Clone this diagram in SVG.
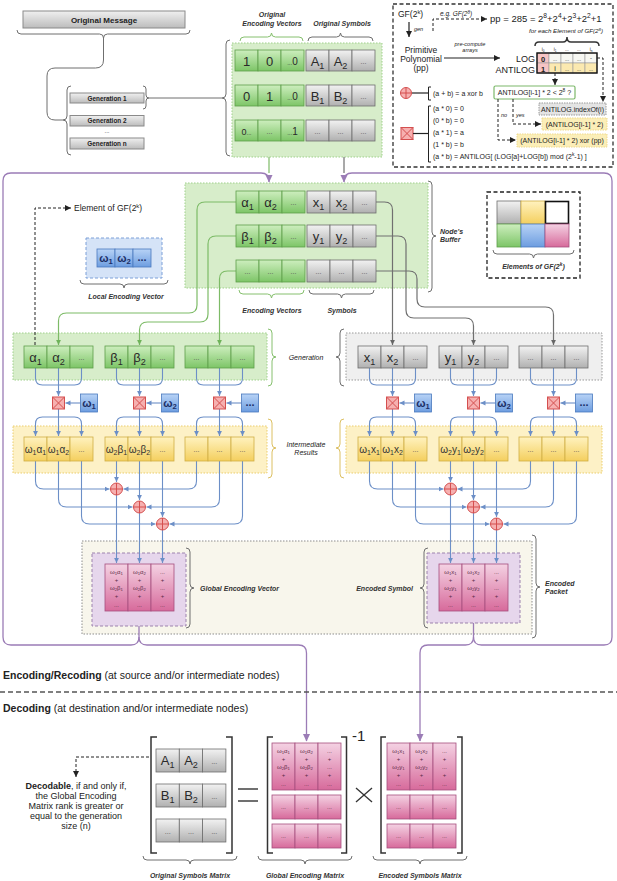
<svg xmlns="http://www.w3.org/2000/svg" width="617" height="881" viewBox="0 0 617 881">
<defs>
<linearGradient id="gG" x1="0" y1="0" x2="0" y2="1"><stop offset="0" stop-color="#cdeebe"/><stop offset="1" stop-color="#7dc567"/></linearGradient>
<linearGradient id="gK" x1="0" y1="0" x2="0" y2="1"><stop offset="0" stop-color="#f2f2f2"/><stop offset="1" stop-color="#b0b0b0"/></linearGradient>
<linearGradient id="gY" x1="0" y1="0" x2="0" y2="1"><stop offset="0" stop-color="#fff2bf"/><stop offset="1" stop-color="#f4cf5e"/></linearGradient>
<linearGradient id="gB" x1="0" y1="0" x2="0" y2="1"><stop offset="0" stop-color="#b8d3f6"/><stop offset="1" stop-color="#6d9de0"/></linearGradient>
<linearGradient id="gP" x1="0" y1="0" x2="0" y2="1"><stop offset="0" stop-color="#f4d2e3"/><stop offset="1" stop-color="#d76a9b"/></linearGradient>
<linearGradient id="gM" x1="0" y1="0" x2="0" y2="1"><stop offset="0" stop-color="#f0f0f0"/><stop offset="1" stop-color="#bcbcbc"/></linearGradient>
<marker id="aP" markerWidth="8" markerHeight="8" refX="7" refY="4" orient="auto" markerUnits="userSpaceOnUse"><path d="M0,0.5 L7.5,4 L0,7.5 z" fill="#9b7cb6"/></marker>
<marker id="aB" markerWidth="6" markerHeight="6" refX="5" refY="3" orient="auto" markerUnits="userSpaceOnUse"><path d="M0,0.6 L5,3 L0,5.4 z" fill="#6c8fc7"/></marker>
<marker id="aG" markerWidth="6" markerHeight="6" refX="5" refY="3" orient="auto" markerUnits="userSpaceOnUse"><path d="M0,0.6 L5,3 L0,5.4 z" fill="#6fb35a"/></marker>
<marker id="aR" markerWidth="6" markerHeight="6" refX="5" refY="3" orient="auto" markerUnits="userSpaceOnUse"><path d="M0,0.6 L5,3 L0,5.4 z" fill="#666"/></marker>
<marker id="aK" markerWidth="7" markerHeight="7" refX="6" refY="3.5" orient="auto" markerUnits="userSpaceOnUse"><path d="M0,0.5 L6,3.5 L0,6.5 z" fill="#222"/></marker>
</defs>
<style>
text{font-family:"Liberation Sans",Arial,Helvetica,sans-serif;fill:#222}
.G{fill:url(#gG);stroke:#5e9f4a;stroke-width:.8}
.K{fill:url(#gK);stroke:#6e6e6e;stroke-width:.8}
.Y{fill:url(#gY);stroke:#cfae45;stroke-width:.8}
.B{fill:url(#gB);stroke:#4a79be;stroke-width:.8}
.P{fill:url(#gP);stroke:#a54f7e;stroke-width:.8}
.c{font-size:13px;text-anchor:middle;fill:#2a2a2a}
.ci{font-size:10px;text-anchor:middle;fill:#333}
.d{font-size:7px;text-anchor:middle;fill:#555}
.pt{font-size:6px;text-anchor:middle;fill:#5b2a47}
.lb{font-size:7px;font-style:italic;font-weight:bold;fill:#333}
.m{text-anchor:middle}
.w{font-size:11px;font-weight:bold;text-anchor:middle;fill:#1c2f66}
.sub{font-size:70%;baseline-shift:-0.3em}
.sup{font-size:70%;baseline-shift:0.55em}
.br{fill:none;stroke:#6f6f6f;stroke-width:1}
.brg{fill:none;stroke:#86c06e;stroke-width:1}
.bry{fill:none;stroke:#dcc062;stroke-width:1}
.bl{fill:none;stroke:#6c8fc7;stroke-width:1.1}
.gl{fill:none;stroke:#7dbb67;stroke-width:1.2}
.kl{fill:none;stroke:#707070;stroke-width:1.2}
.pl{fill:none;stroke:#9b7cb6;stroke-width:1.3}
.dk{fill:none;stroke:#222;stroke-width:1;stroke-dasharray:3 2}
.ox{fill:#f6b0b0;stroke:#d44f4f;stroke-width:1}
.ol{stroke:#d44f4f;stroke-width:1;fill:none}
.bk{fill:none;stroke:#333;stroke-width:1.5}
</style>

<!-- backgrounds -->
<g id="backgrounds">
<rect x="232" y="43" width="150" height="114" fill="#d7edca" stroke="#9fd08b" stroke-dasharray="1.5 1.5"/>
<rect x="185" y="183" width="243" height="105" fill="#d7edca" stroke="#9fd08b" stroke-dasharray="1.5 1.5"/>
<rect x="13" y="333" width="254" height="47" fill="#d7edca" stroke="#9fd08b" stroke-dasharray="1.5 1.5"/>
<rect x="346" y="333" width="256" height="47" fill="#efefef" stroke="#999" stroke-dasharray="1.5 1.5"/>
<rect x="13" y="426" width="254" height="47" fill="#fdf1c6" stroke="#ebcd6e" stroke-dasharray="1.5 1.5"/>
<rect x="346" y="426" width="256" height="47" fill="#fdf1c6" stroke="#ebcd6e" stroke-dasharray="1.5 1.5"/>
<rect x="82" y="541" width="450" height="93" fill="#f8f6ec" stroke="#8d8d8d" stroke-dasharray="1.5 1.5"/>
<rect x="92" y="553" width="94" height="73" fill="#e6d6ec" stroke="#9c82ad" stroke-dasharray="3 2"/>
<rect x="427" y="553" width="93" height="70" fill="#e6d6ec" stroke="#9c82ad" stroke-dasharray="3 2"/>
</g>

<!-- connectors -->
<g id="connectors">
<path class="br" d="M103.5,38 V60 Q103.5,68 95.5,68 H55 Q47,68 47,76 V112 Q47,120 55,120 H63"/>
<path class="br" d="M149,98 H222"/>
<path class="gl" d="M269,157 V173"/>
<path class="kl" d="M344,157 V173"/>
<path class="pl" d="M139,626 V637 Q139,645 131,645 H11 Q3,645 3,637 V181 Q3,173 11,173 H261 Q269,173 269,181 V182" marker-end="url(#aP)"/>
<path class="pl" d="M139,637 Q139,645 147,645 H298.5 Q306.5,645 306.5,653 V741" marker-end="url(#aP)"/>
<path class="pl" d="M473.5,623 V637 Q473.5,645 481.5,645 H604 Q612,645 612,637 V181 Q612,173 604,173 H352 Q344,173 344,181 V182" marker-end="url(#aP)"/>
<path class="pl" d="M473.5,637 Q473.5,645 465.5,645 H428 Q420,645 420,653 V741" marker-end="url(#aP)"/>
<path class="gl" d="M236,202 H205 Q197,202 197,210 V305 Q197,313 189,313 H66.5 Q58.5,313 58.5,321 V345" marker-end="url(#aG)"/>
<path class="gl" d="M236,236 H216 Q208,236 208,244 V314 Q208,322 200,322 H147.5 Q139.5,322 139.5,330 V345" marker-end="url(#aG)"/>
<path class="gl" d="M236,271 H227.5 Q219.5,271 219.5,279 V345" marker-end="url(#aG)"/>
<path class="kl" d="M376,202 H384.5 Q392.5,202 392.5,210 V345" marker-end="url(#aR)"/>
<path class="kl" d="M376,236 H398 Q406,236 406,244 V310 Q406,318 414,318 H465.5 Q473.5,318 473.5,326 V345" marker-end="url(#aR)"/>
<path class="kl" d="M376,271 H409 Q417,271 417,279 V299 Q417,307 425,307 H545.5 Q553.5,307 553.5,315 V345" marker-end="url(#aR)"/>
<path class="dk" d="M35,345 V208 H71" marker-end="url(#aK)"/>
<g id="mul-units">
<g transform="translate(35.5,0)">
<path class="bl" d="M0,368 V378 Q0,385 7,385 H39 Q46,385 46,378 V368"/>
<path class="bl" d="M23,368 V396" marker-end="url(#aB)"/>
<path class="bl" d="M45,403 H30" marker-end="url(#aB)"/>
<path class="bl" d="M23,409 V436" marker-end="url(#aB)"/>
<path class="bl" d="M23,417 H7 Q0,417 0,424 V436" marker-end="url(#aB)"/>
<path class="bl" d="M23,417 H39 Q46,417 46,424 V436" marker-end="url(#aB)"/>
</g>
<g transform="translate(116.5,0)">
<path class="bl" d="M0,368 V378 Q0,385 7,385 H39 Q46,385 46,378 V368"/>
<path class="bl" d="M23,368 V396" marker-end="url(#aB)"/>
<path class="bl" d="M45,403 H30" marker-end="url(#aB)"/>
<path class="bl" d="M23,409 V436" marker-end="url(#aB)"/>
<path class="bl" d="M23,417 H7 Q0,417 0,424 V436" marker-end="url(#aB)"/>
<path class="bl" d="M23,417 H39 Q46,417 46,424 V436" marker-end="url(#aB)"/>
</g>
<g transform="translate(196.5,0)">
<path class="bl" d="M0,368 V378 Q0,385 7,385 H39 Q46,385 46,378 V368"/>
<path class="bl" d="M23,368 V396" marker-end="url(#aB)"/>
<path class="bl" d="M45,403 H30" marker-end="url(#aB)"/>
<path class="bl" d="M23,409 V436" marker-end="url(#aB)"/>
<path class="bl" d="M23,417 H7 Q0,417 0,424 V436" marker-end="url(#aB)"/>
<path class="bl" d="M23,417 H39 Q46,417 46,424 V436" marker-end="url(#aB)"/>
</g>
<g transform="translate(369.5,0)">
<path class="bl" d="M0,368 V378 Q0,385 7,385 H39 Q46,385 46,378 V368"/>
<path class="bl" d="M23,368 V396" marker-end="url(#aB)"/>
<path class="bl" d="M45,403 H30" marker-end="url(#aB)"/>
<path class="bl" d="M23,409 V436" marker-end="url(#aB)"/>
<path class="bl" d="M23,417 H7 Q0,417 0,424 V436" marker-end="url(#aB)"/>
<path class="bl" d="M23,417 H39 Q46,417 46,424 V436" marker-end="url(#aB)"/>
</g>
<g transform="translate(450.5,0)">
<path class="bl" d="M0,368 V378 Q0,385 7,385 H39 Q46,385 46,378 V368"/>
<path class="bl" d="M23,368 V396" marker-end="url(#aB)"/>
<path class="bl" d="M45,403 H30" marker-end="url(#aB)"/>
<path class="bl" d="M23,409 V436" marker-end="url(#aB)"/>
<path class="bl" d="M23,417 H7 Q0,417 0,424 V436" marker-end="url(#aB)"/>
<path class="bl" d="M23,417 H39 Q46,417 46,424 V436" marker-end="url(#aB)"/>
</g>
<g transform="translate(530.5,0)">
<path class="bl" d="M0,368 V378 Q0,385 7,385 H39 Q46,385 46,378 V368"/>
<path class="bl" d="M23,368 V396" marker-end="url(#aB)"/>
<path class="bl" d="M45,403 H30" marker-end="url(#aB)"/>
<path class="bl" d="M23,409 V436" marker-end="url(#aB)"/>
<path class="bl" d="M23,417 H7 Q0,417 0,424 V436" marker-end="url(#aB)"/>
<path class="bl" d="M23,417 H39 Q46,417 46,424 V436" marker-end="url(#aB)"/>
</g>
</g>
<g id="adder-left">
<path class="bl" d="M35.5,461 V481 Q35.5,489 43.5,489 H109.5" marker-end="url(#aB)"/>
<path class="bl" d="M196.5,461 V481 Q196.5,489 188.5,489 H123.5" marker-end="url(#aB)"/>
<path class="bl" d="M116.5,461 V482" marker-end="url(#aB)"/>
<path class="bl" d="M58.5,461 V499 Q58.5,507 66.5,507 H132.5" marker-end="url(#aB)"/>
<path class="bl" d="M219.5,461 V499 Q219.5,507 211.5,507 H146.5" marker-end="url(#aB)"/>
<path class="bl" d="M139.5,461 V500" marker-end="url(#aB)"/>
<path class="bl" d="M81.5,461 V516 Q81.5,524 89.5,524 H155.5" marker-end="url(#aB)"/>
<path class="bl" d="M242.5,461 V516 Q242.5,524 234.5,524 H169.5" marker-end="url(#aB)"/>
<path class="bl" d="M162.5,461 V517" marker-end="url(#aB)"/>
<path class="bl" d="M116.5,495 V563" marker-end="url(#aB)"/>
<path class="bl" d="M139.5,513 V563" marker-end="url(#aB)"/>
<path class="bl" d="M162.5,530 V563" marker-end="url(#aB)"/>
</g>
<g id="adder-right">
<path class="bl" d="M369.5,461 V481 Q369.5,489 377.5,489 H443.5" marker-end="url(#aB)"/>
<path class="bl" d="M530.5,461 V481 Q530.5,489 522.5,489 H457.5" marker-end="url(#aB)"/>
<path class="bl" d="M450.5,461 V482" marker-end="url(#aB)"/>
<path class="bl" d="M392.5,461 V499 Q392.5,507 400.5,507 H466.5" marker-end="url(#aB)"/>
<path class="bl" d="M553.5,461 V499 Q553.5,507 545.5,507 H480.5" marker-end="url(#aB)"/>
<path class="bl" d="M473.5,461 V500" marker-end="url(#aB)"/>
<path class="bl" d="M415.5,461 V516 Q415.5,524 423.5,524 H489.5" marker-end="url(#aB)"/>
<path class="bl" d="M576.5,461 V516 Q576.5,524 568.5,524 H503.5" marker-end="url(#aB)"/>
<path class="bl" d="M496.5,461 V517" marker-end="url(#aB)"/>
<path class="bl" d="M450.5,495 V563" marker-end="url(#aB)"/>
<path class="bl" d="M473.5,513 V563" marker-end="url(#aB)"/>
<path class="bl" d="M496.5,530 V563" marker-end="url(#aB)"/>
</g>
<path class="dk" d="M149,757 H76 V777" marker-end="url(#aK)"/>
</g>

<g id="original-message">
<rect x="23" y="11" width="162" height="17" fill="url(#gM)" stroke="#8a8a8a"/>
<text x="104" y="22.5" class="m" font-size="8" font-weight="bold" fill="#333">Original Message</text>
<path class="br" d="M17,30 Q17,34 21,34 H99.5 Q103.5,34 103.5,38 Q103.5,34 107.5,34 H186 Q190,34 190,30"/>
</g>
<g id="generations">
<path class="br" d="M71,86 Q67,86 67,90 V116 Q67,120 63,120 Q67,120 67,124 V151 Q67,155 71,155"/>
<rect x="70" y="93" width="74" height="10" fill="url(#gM)" stroke="#8a8a8a"/>
<text x="107" y="100.5" class="m" font-size="6.4" font-weight="bold" fill="#333">Generation 1</text>
<path class="br" d="M143,86 Q146,86 146,89 V95 Q146,98 149,98 Q146,98 146,101 V106 Q146,109 143,109"/>
<rect x="70" y="115.5" width="74" height="10.5" fill="url(#gM)" stroke="#8a8a8a"/>
<text x="107" y="123.3" class="m" font-size="6.4" font-weight="bold" fill="#333">Generation 2</text>
<text x="107" y="133" class="m" font-size="6" fill="#555">...</text>
<rect x="70" y="138" width="74" height="11" fill="url(#gM)" stroke="#8a8a8a"/>
<text x="107" y="146" class="m" font-size="6.4" font-weight="bold" fill="#333">Generation n</text>
</g>

<g id="original-matrix">
<path class="br" d="M230,40 Q226,40 226,44 V94 Q226,98 222,98 Q226,98 226,102 V152 Q226,156 230,156"/>
<path class="brg" d="M240,41 Q240,37 244,37 H267.5 Q271.5,37 271.5,33 Q271.5,37 275.5,37 H299 Q303,37 303,41"/>
<path class="br" d="M308,41 Q308,37 312,37 H336.5 Q340.5,37 340.5,33 Q340.5,37 344.5,37 H369 Q373,37 373,41"/>
<text x="272" y="17" class="lb m">Original</text>
<text x="272" y="26" class="lb m">Encoding Vectors</text>
<text x="342" y="26" class="lb m">Original Symbols</text>
<rect class="G" x="235" y="50" width="23" height="21"/><rect class="G" x="258" y="50" width="23" height="21"/><rect class="G" x="281" y="50" width="23" height="21"/>
<rect class="K" x="306" y="50" width="23" height="21"/><rect class="K" x="329" y="50" width="23" height="21"/><rect class="K" x="352" y="50" width="23" height="21"/>
<rect class="G" x="235" y="85" width="23" height="21"/><rect class="G" x="258" y="85" width="23" height="21"/><rect class="G" x="281" y="85" width="23" height="21"/>
<rect class="K" x="306" y="85" width="23" height="21"/><rect class="K" x="329" y="85" width="23" height="21"/><rect class="K" x="352" y="85" width="23" height="21"/>
<rect class="G" x="235" y="120" width="23" height="21"/><rect class="G" x="258" y="120" width="23" height="21"/><rect class="G" x="281" y="120" width="23" height="21"/>
<rect class="K" x="306" y="120" width="23" height="21"/><rect class="K" x="329" y="120" width="23" height="21"/><rect class="K" x="352" y="120" width="23" height="21"/>
<text class="c" x="246.5" y="65.5">1</text><text class="c" x="269.5" y="65.5">0</text><text class="c" x="292.5" y="65"><tspan font-size="6">...</tspan><tspan font-size="10">0</tspan></text>
<text class="c" x="317.5" y="65.5">A<tspan class="sub">1</tspan></text><text class="c" x="340.5" y="65.5">A<tspan class="sub">2</tspan></text><text class="d" x="363.5" y="64">...</text>
<text class="c" x="246.5" y="100.5">0</text><text class="c" x="269.5" y="100.5">1</text><text class="c" x="292.5" y="100"><tspan font-size="6">...</tspan><tspan font-size="10">0</tspan></text>
<text class="c" x="317.5" y="100.5">B<tspan class="sub">1</tspan></text><text class="c" x="340.5" y="100.5">B<tspan class="sub">2</tspan></text><text class="d" x="363.5" y="99">...</text>
<text class="c" x="246.5" y="135"><tspan font-size="9">0</tspan><tspan font-size="6">...</tspan></text><text class="d" x="269.5" y="134">...</text><text class="c" x="292.5" y="135"><tspan font-size="6">...</tspan><tspan font-size="10">1</tspan></text>
<text class="d" x="317.5" y="134">...</text><text class="d" x="340.5" y="134">...</text><text class="d" x="363.5" y="134">...</text>
</g>

<g id="gf-panel">
<rect x="393" y="4" width="220" height="163" fill="#fff" stroke="#333" stroke-width="1.3" stroke-dasharray="4 2.5"/>
<text x="398" y="17" font-size="8.5">GF(2<tspan class="sup">k</tspan>)</text>
<line x1="409" y1="22" x2="409" y2="37" stroke="#222" stroke-width="1.2" marker-end="url(#aK)"/>
<text x="414" y="31" font-size="5.5" font-style="italic">gen</text>
<path class="dk" d="M433,31 V19 H487" marker-end="url(#aK)"/>
<text x="440" y="15.5" font-size="6.5" font-style="italic">e.g. GF(2<tspan class="sup">8</tspan>)</text>
<text x="490" y="22" font-size="9.5">pp = 285 = 2<tspan class="sup">8</tspan>+2<tspan class="sup">4</tspan>+2<tspan class="sup">3</tspan>+2<tspan class="sup">2</tspan>+1</text>
<text x="566" y="33" class="m" font-size="6.2" font-style="italic">for each Element of GF(2<tspan class="sup">8</tspan>)</text>
<path class="bk" stroke-width="1" d="M535,46 Q535,42 539,42 H563 Q567,42 567,37 Q567,42 571,42 H595 Q599,42 599,46"/>
<text x="421" y="53" class="m" font-size="8.5">Primitive</text>
<text x="421" y="62" class="m" font-size="8.5">Polynomial</text>
<text x="421" y="71" class="m" font-size="8.5">(pp)</text>
<line x1="444" y1="58" x2="500" y2="58" stroke="#222" stroke-width="1.2" marker-end="url(#aK)"/>
<text x="470" y="46" class="m" font-size="5.5" font-style="italic">pre-compute</text>
<text x="470" y="52" class="m" font-size="5.5" font-style="italic">arrays</text>
<text x="535" y="62" font-size="9" text-anchor="end">LOG</text>
<text x="535" y="72.5" font-size="9" text-anchor="end">ANTILOG</text>
<g font-size="4.5" text-anchor="middle" fill="#444">
<text x="543" y="51">i<tspan class="sub">0</tspan></text><text x="555" y="51">i<tspan class="sub">1</tspan></text><text x="567" y="51">...</text><text x="579" y="51">...</text><text x="591" y="51">i<tspan class="sub">n</tspan></text>
</g>
<g stroke="#999" stroke-width=".6">
<rect x="537" y="53" width="12" height="10" fill="#f6c4c4"/><rect x="549" y="53" width="12" height="10" fill="#f7f7f2"/><rect x="561" y="53" width="12" height="10" fill="#f7f7f2"/><rect x="573" y="53" width="12" height="10" fill="#f7f7f2"/><rect x="585" y="53" width="12" height="10" fill="#f7f7f2"/>
<rect x="537" y="63" width="12" height="10" fill="#f6c4c4"/><rect x="549" y="63" width="12" height="10" fill="#fbe9b0"/><rect x="561" y="63" width="12" height="10" fill="#fbe9b0"/><rect x="573" y="63" width="12" height="10" fill="#fbe9b0"/><rect x="585" y="63" width="12" height="10" fill="#fbe9b0"/>
</g>
<rect x="537" y="53" width="60" height="20" fill="none" stroke="#111" stroke-width="1.4"/>
<text x="543" y="61.5" class="m" font-size="7.5" font-weight="bold" fill="#d03030">0</text>
<text x="543" y="71.5" class="m" font-size="7.5" font-weight="bold" fill="#d03030">1</text>
<text x="555" y="60.5" class="m" font-size="5">...</text><text x="567" y="60.5" class="m" font-size="5">...</text><text x="579" y="60.5" class="m" font-size="5">...</text><text x="591" y="60" class="m" font-size="6">-</text>
<text x="555" y="71" class="m" font-size="7">i</text><text x="567" y="70.5" class="m" font-size="5">...</text><text x="579" y="70.5" class="m" font-size="5">...</text><text x="591" y="70.5" class="m" font-size="5">...</text>
<path class="dk" d="M555,73 V85" marker-end="url(#aK)"/>
<path class="dk" d="M597,58 H603 V102" marker-end="url(#aK)"/>
<rect x="494" y="86" width="81" height="13" rx="1.5" fill="#fff" stroke="#7cb86a" stroke-width="1.2"/>
<text x="534.5" y="95.3" class="m" font-size="7">ANTILOG[i-1] * 2 &lt; 2<tspan class="sup">8</tspan> ?</text>
<rect x="539" y="103" width="67" height="12" fill="#e4e4e4" stroke="#999" stroke-dasharray="1.5 1"/>
<text x="572.5" y="111.5" class="m" font-size="7">ANTILOG.indexOf(i)</text>
<path class="dk" d="M498,99 V140 H516" marker-end="url(#aK)"/>
<path class="dk" d="M513,99 V124 H541" marker-end="url(#aK)"/>
<text x="501" y="117" font-size="5.5" font-style="italic">no</text>
<text x="516" y="117" font-size="5.5" font-style="italic">yes</text>
<rect x="542" y="118" width="65" height="12" fill="#fbeeb8" stroke="#efd98c" stroke-dasharray="1.5 1"/>
<text x="574.5" y="126.8" class="m" font-size="7">(ANTILOG[i-1] * 2)</text>
<rect x="517" y="134" width="90" height="13" fill="#fbeeb8" stroke="#efd98c" stroke-dasharray="1.5 1"/>
<text x="562" y="143.3" class="m" font-size="7">(ANTILOG[i-1] * 2) xor (pp)</text>
<circle cx="406" cy="93" r="5.5" class="ox"/><path class="ol" d="M400.5,93 H411.5 M406,87.5 V98.5"/>
<line x1="412" y1="93" x2="428" y2="93" stroke="#222" stroke-width="1.2"/>
<path fill="none" stroke="#222" stroke-width="1" d="M431,87 H428.5 V100 H431"/>
<text x="433" y="96" font-size="7">(a + b) = a xor b</text>
<rect x="401" y="127.5" width="12" height="12" class="ox"/><path class="ol" d="M401,127.5 L413,139.5 M413,127.5 L401,139.5"/>
<line x1="413" y1="133.5" x2="428" y2="133.5" stroke="#222" stroke-width="1.2"/>
<path fill="none" stroke="#222" stroke-width="1" d="M431,106 H428.5 V162 H431"/>
<text x="433" y="111" font-size="7">(a * 0) = 0</text>
<text x="433" y="123" font-size="7">(0 * b) = 0</text>
<text x="433" y="135" font-size="7">(a * 1) = a</text>
<text x="433" y="147" font-size="7">(1 * b) = b</text>
<text x="433" y="159" font-size="7">(a * b) = ANTILOG[ (LOG[a]+LOG[b]) mod (2<tspan class="sup">k</tspan>-1) ]</text>
</g>

<g id="node-buffer">
<rect class="G" x="236" y="191" width="23" height="22"/><rect class="G" x="259" y="191" width="23" height="22"/><rect class="G" x="282" y="191" width="23" height="22"/>
<rect class="K" x="307" y="191" width="23" height="22"/><rect class="K" x="330" y="191" width="23" height="22"/><rect class="K" x="353" y="191" width="23" height="22"/>
<rect class="G" x="236" y="225" width="23" height="22"/><rect class="G" x="259" y="225" width="23" height="22"/><rect class="G" x="282" y="225" width="23" height="22"/>
<rect class="K" x="307" y="225" width="23" height="22"/><rect class="K" x="330" y="225" width="23" height="22"/><rect class="K" x="353" y="225" width="23" height="22"/>
<rect class="G" x="236" y="260" width="23" height="22"/><rect class="G" x="259" y="260" width="23" height="22"/><rect class="G" x="282" y="260" width="23" height="22"/>
<rect class="K" x="307" y="260" width="23" height="22"/><rect class="K" x="330" y="260" width="23" height="22"/><rect class="K" x="353" y="260" width="23" height="22"/>
<text class="c" x="247.5" y="206.5">α<tspan class="sub">1</tspan></text><text class="c" x="270.5" y="206.5">α<tspan class="sub">2</tspan></text><text class="d" x="293.5" y="205">...</text>
<text class="c" x="318.5" y="206.5">x<tspan class="sub">1</tspan></text><text class="c" x="341.5" y="206.5">x<tspan class="sub">2</tspan></text><text class="d" x="364.5" y="205">...</text>
<text class="c" x="247.5" y="240.5">β<tspan class="sub">1</tspan></text><text class="c" x="270.5" y="240.5">β<tspan class="sub">2</tspan></text><text class="d" x="293.5" y="239">...</text>
<text class="c" x="318.5" y="240.5">y<tspan class="sub">1</tspan></text><text class="c" x="341.5" y="240.5">y<tspan class="sub">2</tspan></text><text class="d" x="364.5" y="239">...</text>
<text class="d" x="247.5" y="274">...</text><text class="d" x="270.5" y="274">...</text><text class="d" x="293.5" y="274">...</text>
<text class="d" x="318.5" y="274">...</text><text class="d" x="341.5" y="274">...</text><text class="d" x="364.5" y="274">...</text>
<path class="brg" d="M239,290 Q239,294 243,294 H267.5 Q271.5,294 271.5,298 Q271.5,294 275.5,294 H300 Q304,294 304,290"/>
<path class="br" d="M309,290 Q309,294 313,294 H337.5 Q341.5,294 341.5,298 Q341.5,294 345.5,294 H370 Q374,294 374,290"/>
<text x="272" y="313" class="lb m">Encoding Vectors</text>
<text x="342" y="313" class="lb m">Symbols</text>
<path class="br" stroke="#333" d="M428,181 Q432,181 432,185 V232 Q432,236 436,236 Q432,236 432,240 V288 Q432,292 428,292"/>
<text x="440" y="234" class="lb">Node's</text>
<text x="440" y="242" class="lb">Buffer</text>
</g>

<g id="gf-elements">
<rect x="487" y="192" width="93" height="86" fill="#fff" stroke="#222" stroke-width="1.3" stroke-dasharray="4 2.5"/>
<rect class="K" x="497" y="201" width="24" height="23"/><rect class="Y" x="521" y="201" width="24" height="23"/><rect x="545.5" y="201.5" width="23" height="22" fill="#fff" stroke="#111" stroke-width="1.6"/>
<rect class="G" x="497" y="224" width="24" height="23"/><rect class="B" x="521" y="224" width="24" height="23"/><rect class="P" x="545" y="224" width="24" height="23"/>
<path class="br" d="M493,250 Q493,254 497,254 H529.5 Q533.5,254 533.5,258 Q533.5,254 537.5,254 H570 Q574,254 574,250"/>
<text x="533.5" y="269" class="lb m">Elements of GF(2<tspan class="sup">k</tspan>)</text>
</g>

<g id="element-label">
<text x="74" y="211" font-size="8.5" fill="#333">Element of GF(2<tspan class="sup">k</tspan>)</text>
</g>
<g id="local-encoding-vector">
<rect x="86" y="238" width="76" height="40" fill="#d5e3f7" stroke="#7ca0d8" stroke-dasharray="3 2"/>
<rect class="B" x="97" y="249" width="18" height="18"/><rect class="B" x="115" y="249" width="18" height="18"/><rect class="B" x="133" y="249" width="18" height="18"/>
<text class="w" x="106" y="262">ω<tspan class="sub">1</tspan></text><text class="w" x="124" y="262">ω<tspan class="sub">2</tspan></text><text class="w" x="142" y="261" font-size="8">...</text>
<path class="br" d="M80,280 Q80,284 84,284 H120 Q124,284 124,288 Q124,284 128,284 H164 Q168,284 168,280"/>
<text x="126" y="299" class="lb m">Local Encoding Vector</text>
</g>

<g id="generation-left">
<rect class="G" x="24" y="346" width="23" height="22"/><rect class="G" x="47" y="346" width="23" height="22"/><rect class="G" x="70" y="346" width="23" height="22"/>
<rect class="G" x="105" y="346" width="23" height="22"/><rect class="G" x="128" y="346" width="23" height="22"/><rect class="G" x="151" y="346" width="23" height="22"/>
<rect class="G" x="185" y="346" width="23" height="22"/><rect class="G" x="208" y="346" width="23" height="22"/><rect class="G" x="231" y="346" width="23" height="22"/>
<text class="c" x="35.5" y="362">α<tspan class="sub">1</tspan></text><text class="c" x="58.5" y="362">α<tspan class="sub">2</tspan></text><text class="d" x="81.5" y="360">...</text>
<text class="c" x="116.5" y="362">β<tspan class="sub">1</tspan></text><text class="c" x="139.5" y="362">β<tspan class="sub">2</tspan></text><text class="d" x="162.5" y="360">...</text>
<text class="d" x="196.5" y="360">...</text><text class="d" x="219.5" y="360">...</text><text class="d" x="242.5" y="360">...</text>
</g>
<g id="generation-right">
<rect class="K" x="358" y="346" width="23" height="22"/><rect class="K" x="381" y="346" width="23" height="22"/><rect class="K" x="404" y="346" width="23" height="22"/>
<rect class="K" x="439" y="346" width="23" height="22"/><rect class="K" x="462" y="346" width="23" height="22"/><rect class="K" x="485" y="346" width="23" height="22"/>
<rect class="K" x="519" y="346" width="23" height="22"/><rect class="K" x="542" y="346" width="23" height="22"/><rect class="K" x="565" y="346" width="23" height="22"/>
<text class="c" x="369.5" y="362">x<tspan class="sub">1</tspan></text><text class="c" x="392.5" y="362">x<tspan class="sub">2</tspan></text><text class="d" x="415.5" y="360">...</text>
<text class="c" x="450.5" y="362">y<tspan class="sub">1</tspan></text><text class="c" x="473.5" y="362">y<tspan class="sub">2</tspan></text><text class="d" x="496.5" y="360">...</text>
<text class="d" x="530.5" y="360">...</text><text class="d" x="553.5" y="360">...</text><text class="d" x="576.5" y="360">...</text>
</g>
<g id="generation-label">
<path class="brg" d="M268,329 Q272,329 272,333 V353 Q272,357 276,357 Q272,357 272,361 V382 Q272,386 268,386"/>
<path class="br" d="M344,329 Q340,329 340,333 V353 Q340,357 336,357 Q340,357 340,361 V382 Q340,386 344,386"/>
<text x="306" y="360" class="m" font-size="7" font-style="italic">Generation</text>
</g>

<g id="multipliers">
<rect x="52.5" y="397" width="12" height="12" class="ox"/><path class="ol" d="M52.5,397 l12,12 m0,-12 l-12,12"/>
<rect x="133.5" y="397" width="12" height="12" class="ox"/><path class="ol" d="M133.5,397 l12,12 m0,-12 l-12,12"/>
<rect x="213.5" y="397" width="12" height="12" class="ox"/><path class="ol" d="M213.5,397 l12,12 m0,-12 l-12,12"/>
<rect x="386.5" y="397" width="12" height="12" class="ox"/><path class="ol" d="M386.5,397 l12,12 m0,-12 l-12,12"/>
<rect x="467.5" y="397" width="12" height="12" class="ox"/><path class="ol" d="M467.5,397 l12,12 m0,-12 l-12,12"/>
<rect x="547.5" y="397" width="12" height="12" class="ox"/><path class="ol" d="M547.5,397 l12,12 m0,-12 l-12,12"/>
</g>
<g id="coefficients">
<rect class="B" x="80.5" y="394" width="17" height="18"/><text class="w" x="89" y="407">ω<tspan class="sub">1</tspan></text>
<rect class="B" x="161.5" y="394" width="17" height="18"/><text class="w" x="170" y="407">ω<tspan class="sub">2</tspan></text>
<rect class="B" x="241.5" y="394" width="17" height="18"/><text class="w" x="250" y="406" font-size="8">...</text>
<rect class="B" x="414.5" y="394" width="17" height="18"/><text class="w" x="423" y="407">ω<tspan class="sub">1</tspan></text>
<rect class="B" x="495.5" y="394" width="17" height="18"/><text class="w" x="504" y="407">ω<tspan class="sub">2</tspan></text>
<rect class="B" x="575.5" y="394" width="17" height="18"/><text class="w" x="584" y="406" font-size="8">...</text>
</g>

<g id="intermediate-left">
<rect class="Y" x="24" y="437" width="23" height="24"/><rect class="Y" x="47" y="437" width="23" height="24"/><rect class="Y" x="70" y="437" width="23" height="24"/>
<rect class="Y" x="105" y="437" width="23" height="24"/><rect class="Y" x="128" y="437" width="23" height="24"/><rect class="Y" x="151" y="437" width="23" height="24"/>
<rect class="Y" x="185" y="437" width="23" height="24"/><rect class="Y" x="208" y="437" width="23" height="24"/><rect class="Y" x="231" y="437" width="23" height="24"/>
<text class="ci" x="35.5" y="452.5">ω<tspan class="sub">1</tspan>α<tspan class="sub">1</tspan></text><text class="ci" x="58.5" y="452.5">ω<tspan class="sub">1</tspan>α<tspan class="sub">2</tspan></text><text class="d" x="81.5" y="452">...</text>
<text class="ci" x="116.5" y="452.5">ω<tspan class="sub">2</tspan>β<tspan class="sub">1</tspan></text><text class="ci" x="139.5" y="452.5">ω<tspan class="sub">2</tspan>β<tspan class="sub">2</tspan></text><text class="d" x="162.5" y="452">...</text>
<text class="d" x="196.5" y="452">...</text><text class="d" x="219.5" y="452">...</text><text class="d" x="242.5" y="452">...</text>
</g>
<g id="intermediate-right">
<rect class="Y" x="358" y="437" width="23" height="24"/><rect class="Y" x="381" y="437" width="23" height="24"/><rect class="Y" x="404" y="437" width="23" height="24"/>
<rect class="Y" x="439" y="437" width="23" height="24"/><rect class="Y" x="462" y="437" width="23" height="24"/><rect class="Y" x="485" y="437" width="23" height="24"/>
<rect class="Y" x="519" y="437" width="23" height="24"/><rect class="Y" x="542" y="437" width="23" height="24"/><rect class="Y" x="565" y="437" width="23" height="24"/>
<text class="ci" x="369.5" y="452.5">ω<tspan class="sub">1</tspan>x<tspan class="sub">1</tspan></text><text class="ci" x="392.5" y="452.5">ω<tspan class="sub">1</tspan>x<tspan class="sub">2</tspan></text><text class="d" x="415.5" y="452">...</text>
<text class="ci" x="450.5" y="452.5">ω<tspan class="sub">2</tspan>y<tspan class="sub">1</tspan></text><text class="ci" x="473.5" y="452.5">ω<tspan class="sub">2</tspan>y<tspan class="sub">2</tspan></text><text class="d" x="496.5" y="452">...</text>
<text class="d" x="530.5" y="452">...</text><text class="d" x="553.5" y="452">...</text><text class="d" x="576.5" y="452">...</text>
</g>
<g id="intermediate-label">
<path class="bry" d="M268,419 Q272,419 272,423 V444 Q272,448 276,448 Q272,448 272,452 V474 Q272,478 268,478"/>
<path class="bry" d="M344,419 Q340,419 340,423 V444 Q340,448 336,448 Q340,448 340,452 V474 Q340,478 344,478"/>
<text x="306" y="447" class="m" font-size="7" font-style="italic">Intermediate</text>
<text x="306" y="455" class="m" font-size="7" font-style="italic">Results</text>
</g>

<g id="adders">
<circle cx="116.5" cy="489" r="6" class="ox"/><path class="ol" d="M110.5,489 h12 M116.5,483 v12"/>
<circle cx="139.5" cy="507" r="6" class="ox"/><path class="ol" d="M133.5,507 h12 M139.5,501 v12"/>
<circle cx="162.5" cy="524" r="6" class="ox"/><path class="ol" d="M156.5,524 h12 M162.5,518 v12"/>
<circle cx="450.5" cy="489" r="6" class="ox"/><path class="ol" d="M444.5,489 h12 M450.5,483 v12"/>
<circle cx="473.5" cy="507" r="6" class="ox"/><path class="ol" d="M467.5,507 h12 M473.5,501 v12"/>
<circle cx="496.5" cy="524" r="6" class="ox"/><path class="ol" d="M490.5,524 h12 M496.5,518 v12"/>
</g>

<g id="global-encoding-vector">
<rect class="P" x="105" y="564" width="23" height="47"/><rect class="P" x="128" y="564" width="23" height="47"/><rect class="P" x="151" y="564" width="23" height="47"/>
<text class="pt" x="116.5" y="574">ω<tspan class="sub">1</tspan>α<tspan class="sub">1</tspan></text><text class="pt" x="116.5" y="582">+</text><text class="pt" x="116.5" y="590">ω<tspan class="sub">2</tspan>β<tspan class="sub">1</tspan></text><text class="pt" x="116.5" y="598">+</text><text class="pt" x="116.5" y="607">...</text>
<text class="pt" x="139.5" y="574">ω<tspan class="sub">1</tspan>α<tspan class="sub">2</tspan></text><text class="pt" x="139.5" y="582">+</text><text class="pt" x="139.5" y="590">ω<tspan class="sub">2</tspan>β<tspan class="sub">2</tspan></text><text class="pt" x="139.5" y="598">+</text><text class="pt" x="139.5" y="607">...</text>
<text class="pt" x="162.5" y="574">...</text><text class="pt" x="162.5" y="582">+</text><text class="pt" x="162.5" y="590">...</text><text class="pt" x="162.5" y="598">+</text><text class="pt" x="162.5" y="607">...</text>
<path class="br" stroke="#8a7a9a" d="M186,548 Q190,548 190,552 V584 Q190,588 194,588 Q190,588 190,592 V624 Q190,628 186,628"/>
<text x="200" y="590.5" class="lb">Global Encoding Vector</text>
</g>
<g id="encoded-symbol">
<rect class="P" x="439" y="564" width="23" height="47"/><rect class="P" x="462" y="564" width="23" height="47"/><rect class="P" x="485" y="564" width="23" height="47"/>
<text class="pt" x="450.5" y="574">ω<tspan class="sub">1</tspan>x<tspan class="sub">1</tspan></text><text class="pt" x="450.5" y="582">+</text><text class="pt" x="450.5" y="590">ω<tspan class="sub">2</tspan>y<tspan class="sub">1</tspan></text><text class="pt" x="450.5" y="598">+</text><text class="pt" x="450.5" y="607">...</text>
<text class="pt" x="473.5" y="574">ω<tspan class="sub">1</tspan>x<tspan class="sub">2</tspan></text><text class="pt" x="473.5" y="582">+</text><text class="pt" x="473.5" y="590">ω<tspan class="sub">2</tspan>y<tspan class="sub">2</tspan></text><text class="pt" x="473.5" y="598">+</text><text class="pt" x="473.5" y="607">...</text>
<text class="pt" x="496.5" y="574">...</text><text class="pt" x="496.5" y="582">+</text><text class="pt" x="496.5" y="590">...</text><text class="pt" x="496.5" y="598">+</text><text class="pt" x="496.5" y="607">...</text>
<path class="br" stroke="#8a7a9a" d="M428,548 Q424,548 424,552 V584 Q424,588 420,588 Q424,588 424,592 V624 Q424,628 428,628"/>
<text x="413" y="590.5" class="lb" text-anchor="end">Encoded Symbol</text>
</g>
<g id="encoded-packet-label">
<path class="br" d="M532,535 Q536,535 536,539 V583 Q536,587 540,587 Q536,587 536,591 V634 Q536,638 532,638"/>
<text x="545" y="586" class="lb">Encoded</text>
<text x="545" y="594" class="lb">Packet</text>
</g>

<g id="section-labels">
<text x="3" y="679" font-size="10.5" fill="#333"><tspan font-weight="bold">Encoding/Recoding</tspan> (at source and/or intermediate nodes)</text>
<line x1="0" y1="692" x2="617" y2="692" stroke="#555" stroke-width="1.5" stroke-dasharray="5 3"/>
<text x="3" y="712" font-size="10.5" fill="#333"><tspan font-weight="bold">Decoding</tspan> (at destination and/or intermediate nodes)</text>
</g>

<g id="decodable-note">
<text x="76" y="789" class="m" font-size="9" fill="#333"><tspan font-weight="bold">Decodable</tspan>, if and only if,</text>
<text x="76" y="799" class="m" font-size="9" fill="#333">the Global Encoding</text>
<text x="76" y="809" class="m" font-size="9" fill="#333">Matrix rank is greater or</text>
<text x="76" y="819" class="m" font-size="9" fill="#333">equal to the generation</text>
<text x="76" y="829" class="m" font-size="9" fill="#333">size (n)</text>
</g>
<g id="original-symbols-matrix">
<path class="bk" d="M157,737 H151 V853 H157"/><path class="bk" d="M226,737 H232 V853 H226"/>
<rect class="K" x="156" y="749" width="23.3" height="23"/><rect class="K" x="179.3" y="749" width="23.3" height="23"/><rect class="K" x="202.6" y="749" width="23.3" height="23"/>
<rect class="K" x="156" y="784" width="23.3" height="23"/><rect class="K" x="179.3" y="784" width="23.3" height="23"/><rect class="K" x="202.6" y="784" width="23.3" height="23"/>
<rect class="K" x="156" y="819" width="23.3" height="23"/><rect class="K" x="179.3" y="819" width="23.3" height="23"/><rect class="K" x="202.6" y="819" width="23.3" height="23"/>
<text class="c" x="167.7" y="765">A<tspan class="sub">1</tspan></text><text class="c" x="191" y="765">A<tspan class="sub">2</tspan></text><text class="d" x="214.3" y="764">...</text>
<text class="c" x="167.7" y="800">B<tspan class="sub">1</tspan></text><text class="c" x="191" y="800">B<tspan class="sub">2</tspan></text><text class="d" x="214.3" y="799">...</text>
<text class="d" x="167.7" y="834">...</text><text class="d" x="191" y="834">...</text><text class="d" x="214.3" y="834">...</text>
<path class="br" d="M143,856 Q143,860 147,860 H186 Q190,860 190,864 Q190,860 194,860 H233 Q237,860 237,856"/>
<text x="190" y="878" class="lb m">Original Symbols Matrix</text>
</g>
<g id="equals-sign">
<line x1="238" y1="789" x2="258" y2="789" stroke="#333" stroke-width="1.4"/>
<line x1="238" y1="801" x2="258" y2="801" stroke="#333" stroke-width="1.4"/>
</g>
<g id="global-encoding-matrix">
<path class="bk" d="M273,737 H267.5 V853 H273"/><path class="bk" d="M341,737 H346.5 V853 H341"/>
<rect class="P" x="272" y="743" width="23" height="47"/><rect class="P" x="295" y="743" width="23" height="47"/><rect class="P" x="318" y="743" width="23" height="47"/>
<rect class="P" x="272" y="795" width="23" height="24"/><rect class="P" x="295" y="795" width="23" height="24"/><rect class="P" x="318" y="795" width="23" height="24"/>
<rect class="P" x="272" y="824" width="23" height="24"/><rect class="P" x="295" y="824" width="23" height="24"/><rect class="P" x="318" y="824" width="23" height="24"/>
<text class="pt" x="283.5" y="753">ω<tspan class="sub">1</tspan>α<tspan class="sub">1</tspan></text><text class="pt" x="283.5" y="761">+</text><text class="pt" x="283.5" y="769">ω<tspan class="sub">2</tspan>β<tspan class="sub">1</tspan></text><text class="pt" x="283.5" y="777">+</text><text class="pt" x="283.5" y="786">...</text>
<text class="pt" x="306.5" y="753">ω<tspan class="sub">1</tspan>α<tspan class="sub">2</tspan></text><text class="pt" x="306.5" y="761">+</text><text class="pt" x="306.5" y="769">ω<tspan class="sub">2</tspan>β<tspan class="sub">2</tspan></text><text class="pt" x="306.5" y="777">+</text><text class="pt" x="306.5" y="786">...</text>
<text class="pt" x="329.5" y="753">...</text><text class="pt" x="329.5" y="761">+</text><text class="pt" x="329.5" y="769">...</text><text class="pt" x="329.5" y="777">+</text><text class="pt" x="329.5" y="786">...</text>
<text class="pt" x="283.5" y="809">...</text><text class="pt" x="306.5" y="809">...</text><text class="pt" x="329.5" y="809">...</text>
<text class="pt" x="283.5" y="838">...</text><text class="pt" x="306.5" y="838">...</text><text class="pt" x="329.5" y="838">...</text>
<text x="352" y="741" font-size="15" fill="#222">-1</text>
<path class="br" d="M258,856 Q258,860 262,860 H301 Q305,860 305,864 Q305,860 309,860 H348 Q352,860 352,856"/>
<text x="305" y="878" class="lb m">Global Encoding Matrix</text>
</g>
<g id="times-sign">
<line x1="356" y1="788" x2="372" y2="802" stroke="#333" stroke-width="1.3"/>
<line x1="356" y1="802" x2="372" y2="788" stroke="#333" stroke-width="1.3"/>
</g>
<g id="encoded-symbols-matrix">
<path class="bk" d="M386,737 H381 V853 H386"/><path class="bk" d="M457,737 H462 V853 H457"/>
<rect class="P" x="387" y="743" width="23" height="47"/><rect class="P" x="410" y="743" width="23" height="47"/><rect class="P" x="433" y="743" width="23" height="47"/>
<rect class="P" x="387" y="795" width="23" height="24"/><rect class="P" x="410" y="795" width="23" height="24"/><rect class="P" x="433" y="795" width="23" height="24"/>
<rect class="P" x="387" y="824" width="23" height="24"/><rect class="P" x="410" y="824" width="23" height="24"/><rect class="P" x="433" y="824" width="23" height="24"/>
<text class="pt" x="398.5" y="753">ω<tspan class="sub">1</tspan>x<tspan class="sub">1</tspan></text><text class="pt" x="398.5" y="761">+</text><text class="pt" x="398.5" y="769">ω<tspan class="sub">2</tspan>y<tspan class="sub">1</tspan></text><text class="pt" x="398.5" y="777">+</text><text class="pt" x="398.5" y="786">...</text>
<text class="pt" x="421.5" y="753">ω<tspan class="sub">1</tspan>x<tspan class="sub">2</tspan></text><text class="pt" x="421.5" y="761">+</text><text class="pt" x="421.5" y="769">ω<tspan class="sub">2</tspan>y<tspan class="sub">2</tspan></text><text class="pt" x="421.5" y="777">+</text><text class="pt" x="421.5" y="786">...</text>
<text class="pt" x="444.5" y="753">...</text><text class="pt" x="444.5" y="761">+</text><text class="pt" x="444.5" y="769">...</text><text class="pt" x="444.5" y="777">+</text><text class="pt" x="444.5" y="786">...</text>
<text class="pt" x="398.5" y="809">...</text><text class="pt" x="421.5" y="809">...</text><text class="pt" x="444.5" y="809">...</text>
<text class="pt" x="398.5" y="838">...</text><text class="pt" x="421.5" y="838">...</text><text class="pt" x="444.5" y="838">...</text>
<path class="br" d="M373,856 Q373,860 377,860 H416 Q420,860 420,864 Q420,860 424,860 H463 Q467,860 467,856"/>
<text x="420" y="878" class="lb m">Encoded Symbols Matrix</text>
</g>
</svg>
